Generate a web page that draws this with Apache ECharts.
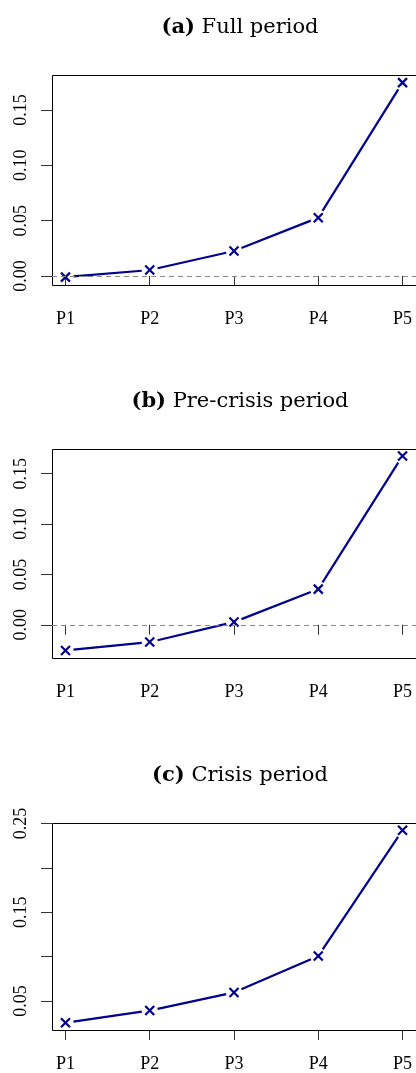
<!DOCTYPE html>
<html>
<head>
<meta charset="utf-8">
<script src="https://cdn.jsdelivr.net/npm/echarts@6/dist/echarts.min.js"></script>
<style>
html,body{margin:0;padding:0;background:#fff;}
#chart{width:416px;height:1073px;}
</style>
</head>
<body>
<div id="chart"></div>
<script>
const categories = ['P1', 'P2', 'P3', 'P4', 'P5'];
const fullVals = [-0.001, 0.0054, 0.0226, 0.0527, 0.1747];
const preVals = [-0.0255, -0.0172, 0.0027, 0.0354, 0.1676];
const crisisVals = [0.0254, 0.0392, 0.0596, 0.1007, 0.2425];
const titlesTag = ['(a)', '(b)', '(c)'];
const titlesText = ['Full period', 'Pre-crisis period', 'Crisis period'];
const yTicksA = [0, 0.05, 0.10, 0.15];
const yLabelsA = [0, 0.05, 0.10, 0.15];
const yTicksB = [0, 0.05, 0.10, 0.15];
const yLabelsB = [0, 0.05, 0.10, 0.15];
const yTicksC = [0.05, 0.10, 0.15, 0.20, 0.25];
const yLabelsC = [0.05, 0.15, 0.25];
const yRangeA = [-0.0081, 0.1816];
const yRangeB = [-0.033, 0.1745];
const yRangeC = [0.0172, 0.2507];

const panels = [
  {vals: fullVals, ticks: yTicksA, labels: yLabelsA, range: yRangeA, top: 75, height: 210, zero: true},
  {vals: preVals, ticks: yTicksB, labels: yLabelsB, range: yRangeB, top: 449, height: 209, zero: true},
  {vals: crisisVals, ticks: yTicksC, labels: yLabelsC, range: yRangeC, top: 823, height: 209, zero: false}
];
const xPos = categories.map((c, i) => i + 1);
const COLOR = '#00008B';
const FONT = '"Liberation Serif", "Times New Roman", serif';

const grid = [], xAxis = [], yAxis = [], series = [], title = [];
panels.forEach((p, k) => {
  grid.push({left: 52, top: p.top, width: 367, height: p.height, show: false});
  xAxis.push({type: 'value', gridIndex: k, min: 0.84, max: 5.16,
    axisLine: {show: false}, splitLine: {show: false},
    axisTick: {show: true, length: 10, lineStyle: {color: '#333', width: 1}, customValues: xPos},
    axisLabel: {customValues: xPos, margin: 25, fontFamily: FONT, fontSize: 18, color: '#000',
      formatter: v => categories[Math.round(v) - 1] || ''}
  });
  yAxis.push({type: 'value', gridIndex: k, min: p.range[0], max: p.range[1],
    axisLine: {show: false}, splitLine: {show: false},
    axisTick: {show: true, length: 11, lineStyle: {color: '#333', width: 1}, customValues: p.ticks},
    axisLabel: {customValues: p.labels, rotate: 90, margin: 22, fontFamily: FONT, fontSize: 18, color: '#000',
      formatter: v => v.toFixed(2)}
  });
  const vals = p.vals;
  // invisible helper line carrying the dashed zero reference
  series.push({type: 'line', xAxisIndex: k, yAxisIndex: k, data: vals.map((v, i) => [xPos[i], v]),
    lineStyle: {opacity: 0}, symbol: 'none', silent: true,
    markLine: p.zero ? {silent: true, symbol: 'none', label: {show: false},
      lineStyle: {color: '#888', type: [5, 4], width: 1}, data: [{yAxis: 0}]} : undefined
  });
  series.push({type: 'custom', xAxisIndex: k, yAxisIndex: k, clip: false,
    data: vals.map((v, i) => [xPos[i], v]),
    renderItem: function (params, api) {
      const i = params.dataIndex;
      const pt = api.coord([api.value(0), api.value(1)]);
      const s = 4.5;
      const children = [
        {type: 'line', shape: {x1: pt[0] - s, y1: pt[1] - s, x2: pt[0] + s, y2: pt[1] + s},
          style: {stroke: COLOR, lineWidth: 2.2}},
        {type: 'line', shape: {x1: pt[0] - s, y1: pt[1] + s, x2: pt[0] + s, y2: pt[1] - s},
          style: {stroke: COLOR, lineWidth: 2.2}}
      ];
      if (i === 0) {
        // plot box (top, left, bottom edges; right edge lies outside the canvas)
        const cs = params.coordSys;
        const x0 = Math.round(cs.x) + 0.5, y0 = Math.round(cs.y) + 0.5;
        const y1 = Math.round(cs.y + cs.height) + 0.5, x1 = cs.x + cs.width;
        children.push({type: 'polyline', shape: {points: [[x1, y0], [x0, y0], [x0, y1], [x1, y1]]},
          style: {stroke: '#000', lineWidth: 1, fill: null}});
      }
      if (i < vals.length - 1) {
        const nx = api.coord([xPos[i + 1], vals[i + 1]]);
        const dx = nx[0] - pt[0], dy = nx[1] - pt[1];
        const L = Math.sqrt(dx * dx + dy * dy);
        const g = 8;
        if (L > 2 * g) {
          children.push({type: 'line', shape: {
            x1: pt[0] + dx / L * g, y1: pt[1] + dy / L * g,
            x2: nx[0] - dx / L * g, y2: nx[1] - dy / L * g},
            style: {stroke: COLOR, lineWidth: 2.2}});
        }
      }
      return {type: 'group', children: children};
    }
  });
  title.push({text: '{b|' + titlesTag[k] + '} ' + titlesText[k], left: 235, textAlign: 'center',
    top: p.top - 63,
    textStyle: {fontFamily: 'DejaVu Serif', fontSize: 21, fontWeight: 'normal', color: '#000',
      rich: {b: {fontFamily: 'DejaVu Serif', fontSize: 21, fontWeight: 'bold', color: '#000'}}}
  });
});

const chart = echarts.init(document.getElementById('chart'), null, {renderer: 'canvas'});
chart.setOption({animation: false, backgroundColor: '#fff', title, grid, xAxis, yAxis, series});
</script>
</body>
</html>
